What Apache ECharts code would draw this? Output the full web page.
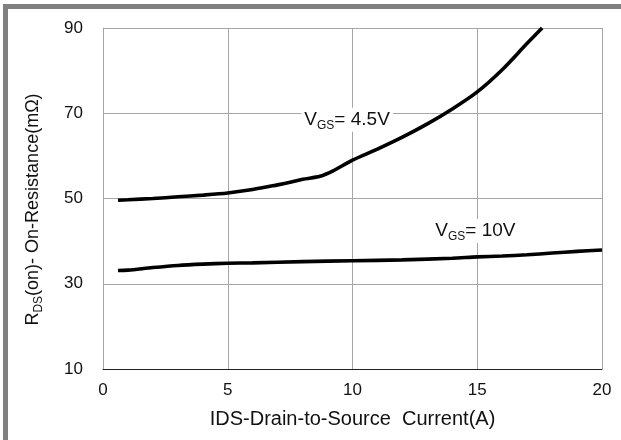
<!DOCTYPE html>
<html><head><meta charset="utf-8">
<script src="https://cdn.jsdelivr.net/npm/echarts@6/dist/echarts.min.js"></script>
<style>html,body{margin:0;padding:0;background:#fff}#c{width:621px;height:440px}</style>
</head><body><div id="c"></div>
<script>
const xTicks = [0, 5, 10, 15, 20];
const yTicks = [10, 30, 50, 70, 90];
const current45 = [0.6, 1, 2, 3, 4, 5, 6, 7, 7.5, 8, 8.7, 9.2, 10, 11, 12, 13, 14, 15, 16, 17, 17.6];
const rds45 = [49.6, 49.7, 50.0, 50.4, 50.8, 51.3, 52.1, 53.2, 53.8, 54.5, 55.2, 56.4, 59.0, 61.6, 64.4, 67.5, 71.0, 75.0, 80.2, 86.4, 90];
const current10 = [0.6, 1, 2, 3, 4, 5, 6, 8, 10, 12, 14, 15, 16, 17, 18, 19, 20];
const rds10 = [33.1, 33.2, 33.8, 34.3, 34.6, 34.8, 34.9, 35.2, 35.4, 35.6, 36.0, 36.3, 36.5, 36.8, 37.2, 37.6, 37.9];
const seriesNames = ['VGS= 4.5V', 'VGS= 10V'];
const labelPos = [[7.95, 68.5], [13.2, 42.4]];
const labelText = ['= 4.5V', '= 10V'];

const FONT = '"Liberation Sans", Arial, sans-serif';
const TXT = '#111';
const GRIDC = '#a6a6a6';

function pairs(xs, ys) { return xs.map((x, i) => [x, ys[i]]); }

const subRich = {
  a: { fontSize: 19, fontFamily: FONT, color: TXT, lineHeight: 24, verticalAlign: 'middle' },
  b: { fontSize: 12, fontFamily: FONT, color: TXT, lineHeight: 12, verticalAlign: 'bottom' }
};

function mkLine(name, data, idx) {
  return {
    name: name, type: 'line', data: data, smooth: 0.3, showSymbol: false, symbol: 'none',
    lineStyle: { color: '#000', width: 3.6 }, clip: true, z: 3,
    markPoint: {
      symbol: 'circle', symbolSize: 0, silent: true,
      data: [{
        coord: labelPos[idx],
        label: {
          show: true, position: 'right', distance: 0,
          formatter: '{a|V}{b|GS}{a|' + labelText[idx] + '}',
          backgroundColor: '#fff', padding: [0, 3, 0, 3],
          rich: subRich
        }
      }]
    }
  };
}

const chart = echarts.init(document.getElementById('c'));
chart.setOption({
  animation: false,
  backgroundColor: '#fff',
  grid: { left: 103, right: 19, top: 28, bottom: 71, containLabel: false },
  xAxis: {
    type: 'value', min: xTicks[0], max: xTicks[xTicks.length - 1], interval: xTicks[1] - xTicks[0],
    name: 'IDS-Drain-to-Source  Current(A)', nameLocation: 'middle', nameGap: 40,
    nameTextStyle: { fontSize: 20, fontFamily: FONT, color: TXT },
    axisLine: { show: true, lineStyle: { color: '#222', width: 1 } },
    axisTick: { show: false },
    axisLabel: { fontSize: 17, fontFamily: FONT, color: TXT, margin: 13 },
    splitLine: { show: true, lineStyle: { color: GRIDC, width: 1 } }
  },
  yAxis: {
    type: 'value', min: yTicks[0], max: yTicks[yTicks.length - 1], interval: yTicks[1] - yTicks[0],
    name: '{a|R}{b|DS}{a|(on)- On-Resistance(mΩ)}{s|}', nameLocation: 'middle', nameGap: 58,
    nameTextStyle: { rich: {
      a: { fontSize: 18, fontFamily: FONT, color: TXT, lineHeight: 24, verticalAlign: 'middle' },
      b: { fontSize: 12, fontFamily: FONT, color: TXT, lineHeight: 12, verticalAlign: 'bottom' },
      s: { width: 22, height: 1 }
    } },
    axisLine: { show: true, lineStyle: { color: GRIDC, width: 1 } },
    axisTick: { show: false },
    axisLabel: { fontSize: 17, fontFamily: FONT, color: TXT, margin: 20 },
    splitLine: { show: true, lineStyle: { color: GRIDC, width: 1 } }
  },
  graphic: [
    { type: 'rect', shape: { x: 3, y: 4, width: 618, height: 5 }, style: { fill: '#808080' }, z: 10 },
    { type: 'rect', shape: { x: 3, y: 4, width: 5, height: 436 }, style: { fill: '#808080' }, z: 10 }
  ],
  series: [
    mkLine(seriesNames[0], pairs(current45, rds45), 0),
    mkLine(seriesNames[1], pairs(current10, rds10), 1)
  ]
});
</script></body></html>
